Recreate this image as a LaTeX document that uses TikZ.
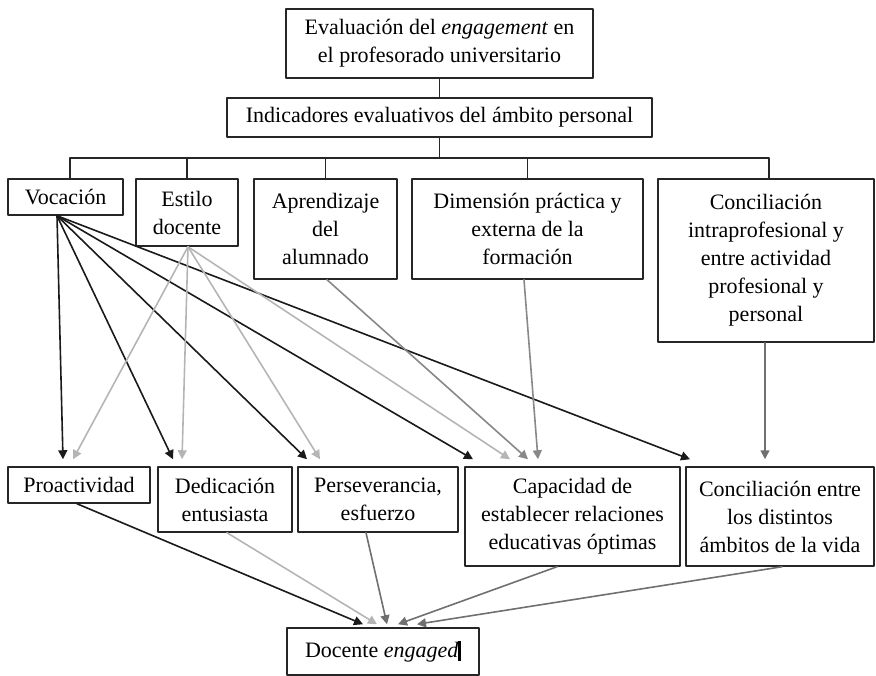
\documentclass[tikz,border=0pt]{standalone}
\usepackage{fontspec}
\setmainfont{Liberation Serif}
\usepackage{xcolor}
\usetikzlibrary{arrows.meta,positioning,calc}
\definecolor{boxline}{HTML}{262626}
\definecolor{darkflow}{HTML}{1A1A1A}
\definecolor{lightflow}{HTML}{B5B5B5}
\definecolor{midflow}{HTML}{888888}
\definecolor{greyflow}{HTML}{707070}

\begin{document}
\begin{tikzpicture}[
		x=1pt,y=-1pt,
		line cap=round,
		line join=round,
		box/.style={draw=boxline, line width=1.5pt, fill=white, inner sep=0pt, align=center, font=\fontsize{22}{28}\selectfont},
		tree/.style={draw=boxline, line width=1.5pt},
		flow/.style={-{Triangle[length=9pt,width=9pt]}, line width=1.6pt},
		darkarrow/.style={flow, draw=darkflow, fill=darkflow},
		lightarrow/.style={flow, draw=lightflow, fill=lightflow},
		midarrow/.style={flow, draw=midflow, fill=midflow},
		greyarrow/.style={flow, draw=greyflow, fill=greyflow}
	]
	\useasboundingbox (0,0) rectangle (876,676);
	
	% Top of the tree
	\node[box, minimum width=307pt, minimum height=69pt] (top) at (439.5,43.5) {Evaluación del \textit{engagement} en\\el profesorado universitario};
	\node[box, minimum width=425pt, minimum height=39pt] (indic) at (439.5,117.5) {Indicadores evaluativos del ámbito personal};
	\coordinate (branch) at (439.5,158);
	
	% Indicators
	\node[box, minimum width=115pt, minimum height=36pt] (voc) at (65.5,197) {Vocación};
	\node[box, minimum width=102pt, minimum height=67pt] (estilo) at (187,212.5) {Estilo\\docente};
	\node[box, minimum width=143pt, minimum height=100pt] (aprend) at (325.5,229) {Aprendizaje\\del\\alumnado};
	\node[box, minimum width=231pt, minimum height=100pt] (dimen) at (527.5,229) {Dimensión práctica y\\externa de la\\formación};
	\node[box, minimum width=216pt, minimum height=163pt] (concil) at (766,260.5) {Conciliación\\intraprofesional y\\entre actividad\\profesional y\\personal};
	
	\draw[tree] (top.south) -- (indic.north);
	\draw[tree] (indic.south) -- (branch);
	\draw[tree] ([xshift=4.5pt]voc.north) |- (branch) -| ([xshift=3pt]concil.north);
	\foreach \n in {estilo,aprend,dimen}
		\draw[tree] (\n.north) -- (\n.north |- branch);
	
	% Dimensions
	\node[box, minimum width=142pt, minimum height=36pt] (proact) at (79,485) {Proactividad};
	\node[box, minimum width=134pt, minimum height=65pt] (dedic) at (225,499.5) {Dedicación\\entusiasta};
	\node[box, minimum width=160pt, minimum height=65pt] (persev) at (378,499.5) {Perseverancia,\\esfuerzo};
	\node[box, minimum width=215pt, minimum height=99pt] (capac) at (572.5,516.5) {Capacidad de\\establecer relaciones\\educativas óptimas};
	\node[box, minimum width=188pt, minimum height=99pt] (concent) at (780,516.5) {Conciliación entre\\los distintos\\ámbitos de la vida};
	\node[box, minimum width=192pt, minimum height=47pt] (docente) at (383,651.5) {Docente \textit{engaged}\rule[-4pt]{2.5pt}{20pt}};
	
	% From Vocacion
	\draw[darkarrow] ([xshift=-8.5pt]voc.south) -- ([xshift=-16pt,yshift=7pt]proact.north);
	\draw[darkarrow] ([xshift=-8.5pt]voc.south) -- ([xshift=-52pt,yshift=7pt]dedic.north);
	\draw[darkarrow] ([xshift=-8.5pt]voc.south) -- ([xshift=-71pt,yshift=7pt]persev.north);
	\draw[darkarrow] ([xshift=-8.5pt]voc.south) -- ([xshift=-99.5pt,yshift=7pt]capac.north);
	\draw[darkarrow] ([xshift=-8.5pt]voc.south) -- ([xshift=-90pt,yshift=7pt]concent.north);
	
	% From Estilo docente
	\draw[lightarrow] ([xshift=1pt]estilo.south) -- ([xshift=-6pt,yshift=7pt]proact.north);
	\draw[lightarrow] ([xshift=1pt]estilo.south) -- ([xshift=-43pt,yshift=7pt]dedic.north);
	\draw[lightarrow] ([xshift=1pt]estilo.south) -- ([xshift=-58pt,yshift=7pt]persev.north);
	\draw[lightarrow] ([xshift=1pt]estilo.south) -- ([xshift=-62.5pt,yshift=7pt]capac.north);
	
	% Other indicators
	\draw[midarrow] ([xshift=1.5pt]aprend.south) -- ([xshift=-44.5pt,yshift=7pt]capac.north);
	\draw[midarrow] ([xshift=-3.5pt]dimen.south) -- ([xshift=-34.5pt,yshift=7pt]capac.north);
	\draw[greyarrow] ([xshift=-1pt]concil.south) -- ([xshift=-15pt,yshift=7pt]concent.north);
	
	% Into Docente engaged
	\draw[darkarrow] ([xshift=-2pt]proact.south) -- ([xshift=-20pt,yshift=3pt]docente.north);
	\draw[lightarrow] ([xshift=2pt]dedic.south) -- ([xshift=-6pt,yshift=3pt]docente.north);
	\draw[greyarrow] ([xshift=-12pt]persev.south) -- ([xshift=4pt,yshift=3pt]docente.north);
	\draw[greyarrow] ([xshift=-15.5pt]capac.south) -- ([xshift=15pt,yshift=3pt]docente.north);
	\draw[greyarrow] ([xshift=2pt]concent.south) -- ([xshift=34pt,yshift=3pt]docente.north);
	
\end{tikzpicture}
\end{document}
